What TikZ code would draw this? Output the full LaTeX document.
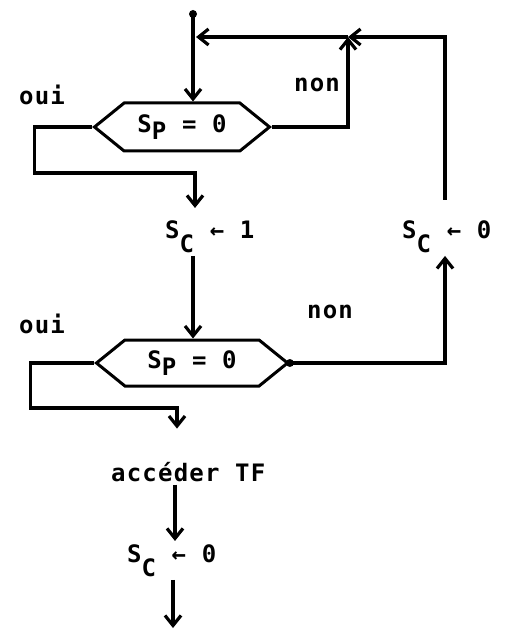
\documentclass[tikz,border=0pt]{standalone}
\usepackage{fontspec}
\newfontfamily\dotfont[LetterSpace=5]{DejaVu Sans Mono Bold}
\usetikzlibrary{arrows.meta,shapes.symbols}

\newcommand{\low}[2][0.3em]{\raisebox{-#1}{#2}}

\tikzset{
  txt/.style={font=\dotfont\fontsize{24}{26}\selectfont, inner sep=3pt},
  test/.style={txt, draw, line width=3pt, signal, signal to=west and east,
    signal pointer angle=78, minimum height=48pt, inner xsep=2pt},
  wire/.style={line width=3.2pt},
  flow/.style={wire, -{Straight Barb[length=10pt,width=16pt]}},
}

\begin{document}
\begin{tikzpicture}[x=1pt,y=-1pt]
  \useasboundingbox (0,0) rectangle (509,631);

  % tests
  \node[test, minimum width=175pt] (h1) at (182,127) {S\low{P} = 0};
  \node[test, minimum width=191pt, minimum height=46pt] (h2) at (192,363) {S\low{P} = 0};

  % actions
  \node[txt, anchor=base west] (c1) at (162,238) {S\low[0.6em]{C} ← 1};
  \node[txt, anchor=base west] (c2) at (399,238) {S\low[0.6em]{C} ← 0};
  \node[txt, anchor=base west] (a) at (108,481) {accéder TF};
  \node[txt, anchor=base west] (c3) at (124,562) {S\low[0.6em]{C} ← 0};

  % labels
  \node[txt, anchor=base west] (oui1) at (16,105) {oui};
  \node[txt, anchor=base west] (non1) at (291,92) {non};
  \node[txt, anchor=base west] (oui2) at (16,333) {oui};
  \node[txt, anchor=base west] (non2) at (304,318) {non};

  \coordinate (start) at (193,14);
  \coordinate (r1) at (445,37);
  \coordinate (j1) at (348,37);
  \coordinate (end) at (173,628);

  % top entry
  \fill (start) circle (4pt);
  \draw[flow] (start) -- (start |- h1.north);

  % first test
  \draw[flow] (h1.east) -| (j1);
  \draw[flow, shorten >=3pt] (j1) -- (start |- j1);
  \draw[flow] (h1.west) -- ++(-58,0) -- ++(0,46) -| ([yshift=9pt]c1.north -| 195,0);
  \draw[flow] (c1.south -| start) -- (start |- h2.north);

  % second test
  \fill (h2.east) circle (4pt);
  \draw[flow] (h2.east) -| (c2.south -| r1);
  \draw[flow] ([yshift=17pt]c2.north -| r1) -- (r1) -- (j1);
  \draw[flow] (h2.west) -- ++(-64,0) -- ++(0,45) -| ([yshift=30pt]a.north -| 177,0);

  % end
  \draw[flow] (a.south -| 175,0) -- (c3.north -| 175,0);
  \draw[flow] (c3.south -| end) -- (end);
\end{tikzpicture}
\end{document}
